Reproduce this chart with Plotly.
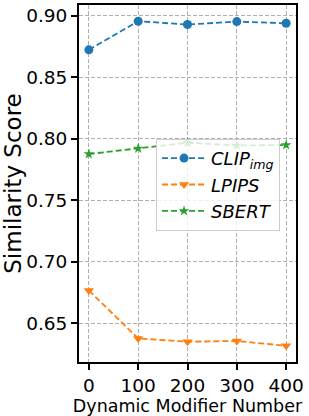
import plotly.graph_objects as go

x_vals = [0, 100, 200, 300, 400]
clip_img = [0.8724, 0.8957, 0.8930, 0.8954, 0.8940]
lpips = [0.6765, 0.6375, 0.6348, 0.6354, 0.6315]
sbert = [0.7876, 0.7922, 0.7968, 0.7946, 0.7949]
y_ticks = [0.65, 0.70, 0.75, 0.80, 0.85, 0.90]
x_ticks = [0, 100, 200, 300, 400]

series = [
    ("<i>CLIP<sub>img</sub></i>", clip_img, "#1f77b4", "circle"),
    ("<i>LPIPS</i>", lpips, "#ff7f0e", "triangle-down"),
    ("<i>SBERT</i>", sbert, "#2ca02c", "star"),
]

fig = go.Figure()
for name, vals, color, sym in series:
    fig.add_trace(go.Scatter(
        x=x_vals, y=vals, name=name, mode="lines+markers",
        line=dict(color=color, width=1.8, dash="6px,3px"),
        marker=dict(symbol=sym, size=9 if sym != "star" else 8, color=color),
    ))

font = "DejaVu Sans"
fig.update_layout(
    width=309, height=416,
    margin=dict(l=79, r=13, t=5, b=54, autoexpand=False),
    plot_bgcolor="white", paper_bgcolor="white",
    font=dict(family=font, color="black", size=16),
    showlegend=True,
    legend=dict(
        x=0.355, y=0.625, xanchor="left", yanchor="top",
        bgcolor="rgba(255,255,255,0.8)", bordercolor="#cccccc", borderwidth=1,
        font=dict(family=font, size=18, color="black"),
        itemwidth=44,
    ),
)
fig.update_xaxes(
    range=[-20, 420], tickvals=x_ticks, ticktext=[str(v) for v in x_ticks],
    showline=True, linecolor="black", linewidth=1.8, mirror=True,
    ticks="outside", ticklen=6, tickwidth=1.5, tickcolor="black",
    showgrid=True, gridcolor="#b0b0b0", griddash="4px,2px", gridwidth=1,
    zeroline=False, tickfont=dict(size=18.5), automargin=False,
    title=dict(text="Dynamic Modifier Number", font=dict(size=17.5), standoff=2),
)
fig.update_yaxes(
    range=[0.6183, 0.9089], tickvals=y_ticks, ticktext=[f"{v:.2f}" for v in y_ticks],
    showline=True, linecolor="black", linewidth=1.8, mirror=True,
    ticks="outside", ticklen=6, tickwidth=1.5, tickcolor="black",
    showgrid=True, gridcolor="#b0b0b0", griddash="4px,2px", gridwidth=1,
    zeroline=False, tickfont=dict(size=18.5), automargin=False,
    title=dict(text="Similarity Score", font=dict(size=23), standoff=4),
)
fig.write_html(
    "out.html",
    config={"displayModeBar": False},
    post_script="document.body.style.margin='0';document.body.style.overflow='hidden';",
)
